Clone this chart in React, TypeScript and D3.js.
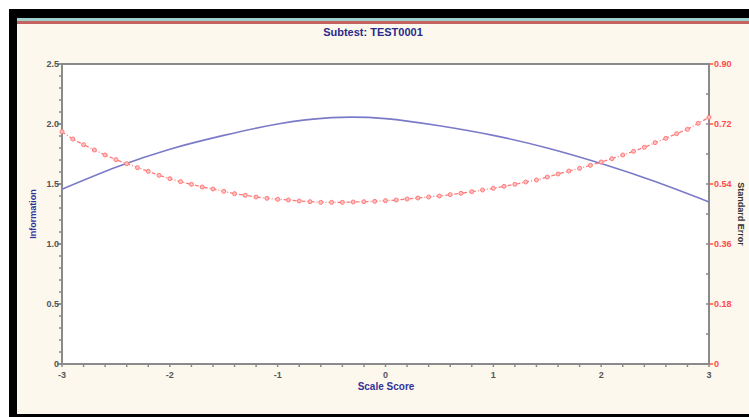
import React from 'react';
import * as d3 from 'd3';

// Scale score grid for the information curve
const infoTheta = [-3, -2.5, -2, -1.5, -1, -0.5, 0, 0.5, 1, 1.5, 2, 2.5, 3];
const infoValues = [1.456, 1.639, 1.79, 1.905, 2.0, 2.053, 2.045, 1.985, 1.905, 1.8, 1.67, 1.52, 1.35];

// Standard error, read at every 0.1 of the scale score
const seTheta = d3.range(61).map(i => Math.round((-3 + i * 0.1) * 10) / 10);
const seValues = [
  0.697, 0.675, 0.658, 0.642, 0.627, 0.613, 0.601, 0.589, 0.578, 0.566,
  0.556, 0.547, 0.539, 0.531, 0.525, 0.518, 0.511, 0.506, 0.501, 0.497,
  0.494, 0.492, 0.489, 0.487, 0.485, 0.485, 0.485, 0.486, 0.487, 0.488,
  0.49, 0.492, 0.495, 0.498, 0.501, 0.504, 0.508, 0.512, 0.517, 0.522,
  0.527, 0.533, 0.539, 0.546, 0.552, 0.561, 0.57, 0.579, 0.587, 0.596,
  0.606, 0.616, 0.627, 0.638, 0.65, 0.664, 0.677, 0.691, 0.704, 0.722,
  0.74,
];

const xTicks = [-3, -2, -1, 0, 1, 2, 3];
const leftTicks = [0, 0.5, 1.0, 1.5, 2.0, 2.5];
const leftLabels = ['0', '0.5', '1.0', '1.5', '2.0', '2.5'];
const rightTicks = [0, 0.18, 0.36, 0.54, 0.72, 0.9];
const rightLabels = ['0', '0.18', '0.36', '0.54', '0.72', '0.90'];

const W = 749;
const H = 417;
const plot = { left: 62, right: 709, top: 64, bottom: 364 };
const font = 'Liberation Sans, Arial, sans-serif';

const App = () => {
  const x = d3.scaleLinear().domain([-3, 3]).range([plot.left, plot.right]);
  const yL = d3.scaleLinear().domain([0, 2.5]).range([plot.bottom, plot.top]);
  const yR = d3.scaleLinear().domain([0, 0.9]).range([plot.bottom, plot.top]);

  const infoLine = d3.line<number>()
    .x((_, i) => x(infoTheta[i]))
    .y(d => yL(d))
    .curve(d3.curveNatural);
  const seLine = d3.line<number>()
    .x((_, i) => x(seTheta[i]))
    .y(d => yR(d));

  const xMinor = d3.range(-3, 3.001, 0.2);
  const leftMinor = d3.range(0, 2.501, 0.1);
  const rightMinor = d3.range(0, 0.901, 0.09);

  const axisColor = '#8a8a8a';
  const navy = '#32329a';

  return (
    <svg width={W} height={H} style={{ position: 'absolute', left: 0, top: 0 }}>
      <rect x={0} y={0} width={W} height={H} fill="#ffffff" />
      <rect x={9} y={9} width={W - 9} height={H - 9} fill="#000" />
      <rect x={17} y={18} width={W - 17} height={396} fill="#fdf8ee" />
      <rect x={17} y={18} width={W - 17} height={3} fill="#9fd0cc" />
      <rect x={17} y={21} width={W - 17} height={3} fill="#c46262" />

      <text x={373} y={36} textAnchor="middle" fontFamily={font} fontWeight="bold"
        fontSize={11} fill="#2a2a8a">Subtest: TEST0001</text>

      <rect x={plot.left} y={plot.top} width={plot.right - plot.left}
        height={plot.bottom - plot.top} fill="#fff" stroke={axisColor} strokeWidth={2} />

      {/* bottom axis */}
      {xMinor.map((t, i) => (
        <line key={'xm' + i} x1={x(t)} x2={x(t)} y1={plot.bottom} y2={plot.bottom + 3}
          stroke={axisColor} strokeWidth={1.5} />
      ))}
      {xTicks.map(t => (
        <text key={'xt' + t} x={x(t)} y={378} textAnchor="middle" fontFamily={font}
          fontWeight="bold" fontSize={9} fill="#555">{t}</text>
      ))}
      <text x={386} y={390} textAnchor="middle" fontFamily={font} fontWeight="bold"
        fontSize={10} fill={navy}>Scale Score</text>

      {/* left axis */}
      {leftMinor.map((t, i) => (
        <line key={'lm' + i} x1={plot.left - 3} x2={plot.left} y1={yL(t)} y2={yL(t)}
          stroke={axisColor} strokeWidth={1.5} />
      ))}
      {leftTicks.map((t, i) => (
        <g key={'lt' + i}>
          <line x1={plot.left - 5} x2={plot.left} y1={yL(t)} y2={yL(t)} stroke={axisColor} strokeWidth={1.5} />
          <text x={plot.left - 3} y={yL(t) + 3} textAnchor="end" fontFamily={font}
            fontWeight="bold" fontSize={9} fill="#555">{leftLabels[i]}</text>
        </g>
      ))}
      <text transform={`translate(36,${(plot.top + plot.bottom) / 2}) rotate(-90)`}
        textAnchor="middle" fontFamily={font} fontWeight="bold" fontSize={9} fill={navy}>Information</text>

      {/* right axis */}
      {rightMinor.map((t, i) => (
        <line key={'rm' + i} x1={plot.right - 3} x2={plot.right} y1={yR(t)} y2={yR(t)}
          stroke={axisColor} strokeWidth={1.5} />
      ))}
      {rightTicks.map((t, i) => (
        <g key={'rt' + i}>
          <line x1={plot.right} x2={plot.right + 4} y1={yR(t)} y2={yR(t)} stroke="#ff5050" strokeWidth={1.5} />
          <text x={plot.right + 5} y={yR(t) + 3} textAnchor="start" fontFamily={font}
            fontWeight="bold" fontSize={9} fill="#ff4a4a">{rightLabels[i]}</text>
        </g>
      ))}
      <text transform={`translate(738,${(plot.top + plot.bottom) / 2}) rotate(90)`}
        textAnchor="middle" fontFamily={font} fontWeight="bold" fontSize={9} fill="#333">Standard Error</text>

      {/* series */}
      <path d={infoLine(infoValues) || ''} fill="none" stroke="#7a7ac8" strokeWidth={1.6} />
      <path d={seLine(seValues) || ''} fill="none" stroke="#ff7a7a" strokeWidth={1.3}
        strokeDasharray="4,2,1,2" />
      {seValues.map((v, i) => (
        <circle key={'se' + i} cx={x(seTheta[i])} cy={yR(v)} r={2}
          fill="#ffc0c0" stroke="#ff7a7a" strokeWidth={1} />
      ))}
    </svg>
  );
};

export default App;
